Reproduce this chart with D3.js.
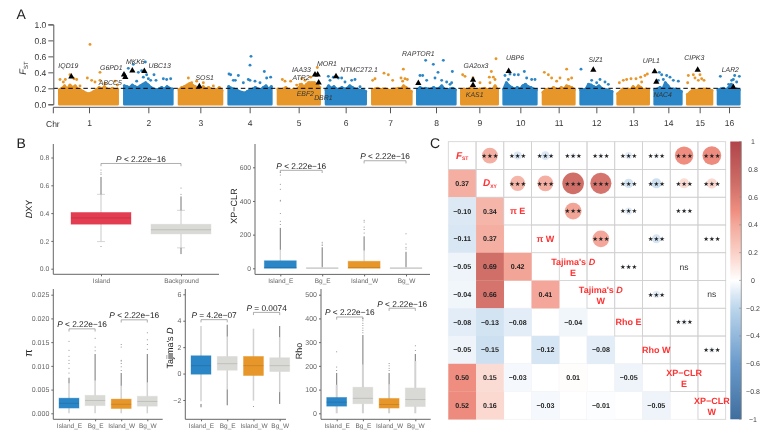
<!DOCTYPE html>
<html><head><meta charset="utf-8">
<script src="https://cdn.jsdelivr.net/npm/d3@7"></script>
<style>html,body{margin:0;padding:0;background:#fff}svg{display:block;filter:blur(.3px)}text{font-family:"Liberation Sans",Arial,sans-serif;text-rendering:geometricPrecision}</style>
</head><body><svg id="c" width="778" height="434"></svg>
<script>
// ---------- Panel A data ----------
const chrNames = ["1","2","3","4","5","6","7","8","9","10","11","12","13","14","15","16"];
const chrTicks = [267,445,601,749,896,1037,1170,1308,1438,1561,1676,1789,1900,2005,2099,2187];
const chrSpans = [[174,357],[369,521],[533,670],[682,818],[830,963],[974,1101],[1113,1238],[1248,1370],[1380,1497],[1507,1613],[1625,1727],[1738,1840],[1849,1950],[1960,2048],[2058,2140],[2150,2222]];
const chrTops = [
 [.2,.22,.25,.21,.26,.23,.25,.21,.2,.18,.16,.15,.16,.18,.2,.23,.21,.24,.21,.2,.22,.2,.21],
 [.25,.24,.23,.26,.24,.23,.25,.27,.29,.26,.23,.21,.2,.21,.23,.21,.24,.22,.21],
 [.2,.23,.24,.26,.28,.26,.24,.23,.22,.24,.21,.23,.21,.2,.2,.23,.19],
 [.24,.22,.21,.2,.18,.17,.16,.18,.2,.21,.23,.21,.2,.23,.25,.21,.24],
 [.21,.2,.21,.23,.2,.19,.21,.2,.23,.27,.24,.27,.29,.29,.29,.27,.23],
 [.2,.25,.22,.24,.21,.21,.23,.21,.22,.25,.23,.21,.21,.19,.2,.18],
 [.2,.21,.22,.2,.21,.21,.2,.19,.21,.21,.22,.21,.25,.23,.2,.18],
 [.2,.23,.21,.22,.21,.21,.23,.21,.22,.25,.21,.2,.21,.22,.2],
 [.2,.21,.2,.21,.24,.21,.2,.21,.21,.22,.2,.21,.2,.25,.2],
 [.21,.29,.25,.23,.21,.23,.21,.25,.27,.24,.23,.21,.2],
 [.17,.2,.21,.2,.23,.21,.2,.23,.21,.25,.24,.23,.2],
 [.2,.2,.21,.27,.26,.24,.23,.25,.22,.2,.2,.19,.18],
 [.15,.18,.21,.2,.21,.2,.24,.21,.25,.23,.2,.21,.2],
 [.2,.21,.23,.21,.29,.25,.21,.21,.21,.2,.18],
 [.14,.17,.2,.19,.2,.2,.21,.21,.2,.19],
 [.2,.21,.22,.2,.23,.27,.21,.21,.2]];
const peaksOrange = [[270,.75],[300,.4],[180,.31],[190,.28],[196,.31],[210,.37],[222,.32],[230,.31],[240,.23],[262,.33],[275,.3],[285,.28],[300,.3],[315,.26],[345,.29],[352,.24],
 [565,.33],[575,.27],[590,.29],[610,.27],[640,.23],[847,.31],[855,.29],[872,.29],[905,.32],[915,.3],[925,.27],[932,.34],[952,.46],[945,.38],[900,.25],[890,.24],
 [1125,.32],[1118,.3],[1152,.39],[1165,.37],[1178,.3],[1210,.44],[1203,.33],[1215,.32],[1222,.31],[1208,.29],
 [1388,.37],[1395,.35],[1419,.33],[1474,.41],[1488,.57],[1480,.34],[1468,.34],[1485,.31],[1470,.27],[1440,.27],
 [1633,.4],[1645,.37],[1655,.33],[1670,.29],[1680,.33],[1700,.44],[1705,.31],[1715,.33],
 [1858,.27],[1870,.3],[1880,.31],[1893,.32],[1908,.32],[1922,.34],[1935,.36],[1942,.38],[1925,.28],
 [2065,.36],[2080,.37],[2085,.33],[2100,.37],[2105,.32],[2112,.3],[2095,.3],[2063,.27]];
const peaksBlue = [[385,.45],[372,.38],[400,.5],[415,.4],[425,.42],[436,.53],[440,.37],[445,.32],[462,.37],[468,.3],[490,.32],[512,.32],[500,.31],[410,.29],[430,.34],[452,.3],
 [753,.6],[750,.49],[687,.38],[692,.37],[715,.36],[750,.3],[793,.41],[812,.34],[700,.3],[706,.3],[730,.27],[745,.31],[765,.29],[780,.27],[800,.33],
 [985,.35],[990,.3],[1000,.34],[1015,.33],[1025,.33],[1035,.28],[1055,.3],[1065,.31],[1080,.22],
 [1277,.55],[1300,.5],[1330,.55],[1314,.4],[1357,.41],[1260,.36],[1268,.36],[1280,.3],[1305,.33],[1325,.3],[1340,.28],[1350,.25],[1355,.27],
 [1515,.36],[1530,.38],[1543,.37],[1555,.37],[1573,.41],[1580,.33],[1595,.31],[1605,.31],[1525,.31],
 [1743,.44],[1775,.3],[1790,.27],[1800,.31],[1815,.28],[1825,.25],
 [1978,.4],[2000,.36],[2010,.34],[1990,.31],[2020,.3],[2035,.29],[1975,.3],[1985,.37],
 [2161,.35],[2204,.36],[2218,.35],[2195,.3],[2200,.31],[2210,.28],[2186,.25]];
const genePos = [214,372,376,397,433,598,945,953,956,1008,1255,1419,1419,1526,1780,1964,1969,2093,2200];
const geneFst = [.345,.37,.34,.42,.415,.225,.37,.37,.27,.35,.265,.305,.24,.415,.43,.41,.28,.43,.215];
const geneNames = ["IQD19","G6PD1","ABCC5","MKK6","UBC13","SOS1","IAA33","ATR2","MOR1","EBF2","DBR1","NTMC2T2.1","RAPTOR1","GA2ox3","KAS1","UBP6","SIZ1","UPL1","NAC4","CIPK3","LAR2"];
const geneLabelX = [205,334,331,406,479,614,904,903,981,916,970,1077,1255,1428,1424,1545,1787,1954,1988,2083,2191];
const geneLabelFst = [.49,.46,.27,.54,.48,.33,.43,.34,.51,.14,.09,.43,.63,.48,.12,.59,.56,.55,.12,.59,.43];
const fstTicks = [0,.2,.4,.6,.8,1];

// ---------- Panel B data ----------
const dxyCats = ["Island","Background"];
const dxyQ = [[.195,.32,.365,.405,.535],[.15,.25,.28,.32,.42]];
const dxyDense = [[[.535,.66]],[[.42,.52],[.105,.15]]];
const dxySingles = [[.68,.69,.71,.16],[.535,.58]];
const fourCats = ["Island_E","Bg_E","Island_W","Bg_W"];
const xpQ = [[0,0,5,45,110],[0,0,1,3,8],[0,0,5,42,105],[0,0,1,3,8]];
const xpDense = [[[110,240]],[[8,125]],[[105,190]],[[8,98]]];
const xpSingles = [[260,280,325,400,405,470,500,555,570],[135,145,155],[210,230,245,275,285],[115,125,145,205]];
const piQ = [[0,.0011,.0021,.0032,.0063],[0,.0016,.0027,.0038,.0069],[0,.001,.0019,.003,.0058],[0,.0015,.0025,.0036,.0065]];
const piDense = [[[.0063,.0075]],[[.0069,.0125]],[[.0058,.0085]],[[.0065,.0125]]];
const piSingles = [[.0085,.0095,.0105,.0112,.012,.0133,.0152],[.0132,.014,.0158],[.009,.0098,.0105,.011,.0112,.014,.0145],[.0135,.0145,.0155,.017]];
const tdQ = [[-2.1,-.05,.6,1.35,3.6],[-1.2,.25,.75,1.3,2.8],[-2.05,-.15,.6,1.3,3.4],[-1.4,.15,.6,1.2,2.75]];
const tdDense = [[[-2.55,-2.3]],[[-2.4,-1.2],[2.8,3.7]],[],[[-2.3,-1.4],[2.75,3.6]]];
const tdSingles = [[],[],[-2.5],[]];
const rhoQ = [[0,30,47,67,120],[0,40,63,110,205],[0,22,37,63,122],[0,28,58,107,220]];
const rhoDense = [[[120,170]],[[205,330]],[[122,170]],[[220,250]]];
const rhoSingles = [[180,195,260],[340,350,360,370,380,390,400],[180,190,200,210],[265,285]];

// ---------- Panel C data ----------
const corrLabels = ["FST","DXY","π E","π W","Tajima's D|E","Tajima's D|W","Rho E","Rho W","XP−CLR|E","XP−CLR|W"];
const corrLower = [
 [],[.37],[-.10,.34],[-.11,.37,null],[-.05,.69,.42,null],[-.04,.66,null,.41,null],
 [-.08,-.13,-.08,null,-.04,null],[-.05,-.15,null,-.12,null,-.08,null],
 [.50,.15,-.03,null,.01,null,-.05,null],[.52,.16,null,-.03,null,-.01,null,-.05,null]];
const corrFmt = [
 [],["0.37"],["−0.10","0.34"],["−0.11","0.37",""],["−0.05","0.69","0.42",""],["−0.04","0.66","","0.41",""],
 ["−0.08","−0.13","−0.08","","−0.04",""],["−0.05","−0.15","","−0.12","","−0.08",""],
 ["0.50","0.15","−0.03","","0.01","","−0.05",""],["0.52","0.16","","−0.03","","−0.01","","−0.05",""]];
const nsPairs = ["4-8","5-9"];
const colorTicks = [1,.8,.6,.4,.2,0,-.2,-.4,-.6,-.8,-1];
const colorStops = [-1,-.6,-.2,-.1,0,.2,.4,.5,.7,1];
const colorHex = ["#3f6e9e","#6a9acb","#bcd6ec","#dce9f5","#ffffff","#fad0c6","#f3a99c","#ef8e80","#ce6d67","#b0444a"];

const svg = d3.select("#c");
const INK = "#222";
const ORANGE="#e7972a", BLUE="#2a86c6", LGREY="#d9d9d6", RED="#e23d50";

function letter(t,x,y){svg.append("text").attr("x",x).attr("y",y).attr("font-size",14).attr("fill",INK).text(t);}
letter("A",16.5,19); letter("B",16.5,148); letter("C",430,148);

// ---------- Panel A ----------
const ax = d3.scaleLinear().domain([0,2334]).range([0,778]);
const ay = d3.scaleLinear().domain([0,1]).range([104.3,24.4]);
const A = svg.append("g");
chrSpans.forEach((s,i)=>{
  const col = i%2===0?ORANGE:BLUE, tops = chrTops[i];
  const px = d3.scaleLinear().domain([0,tops.length-1]).range([s[0]+4,s[1]-4]);
  const area = d3.area().x((d,k)=>ax(px(k))).y0(ay(0)).y1(d=>ay(d)+1.5);
  A.append("path").attr("d",area(tops)).attr("fill",col).attr("stroke",col).attr("stroke-width",2.6).attr("stroke-linejoin","round");
  A.append("g").selectAll("circle").data(tops).join("circle")
    .attr("cx",(d,k)=>ax(px(k))).attr("cy",d=>ay(d)+1.5).attr("r",1.5).attr("fill",col);
});
[[peaksOrange,ORANGE],[peaksBlue,BLUE]].forEach(([arr,col])=>{
  A.append("g").selectAll("circle").data(arr).join("circle")
    .attr("cx",d=>ax(d[0])).attr("cy",d=>ay(d[1])).attr("r",1.45).attr("fill",col);
});
A.append("line").attr("x1",ax(160)).attr("x2",ax(2222)).attr("y1",ay(.2)).attr("y2",ay(.2))
  .attr("stroke","#000").attr("stroke-width",1).attr("stroke-dasharray","4.5,3");
A.append("g").selectAll("path").data(genePos).join("path")
  .attr("d",d3.symbol(d3.symbolTriangle,17))
  .attr("transform",(d,i)=>`translate(${ax(d)},${ay(geneFst[i])})`).attr("fill","#000");
A.append("g").selectAll("text").data(geneNames).join("text")
  .attr("x",(d,i)=>ax(geneLabelX[i])).attr("y",(d,i)=>ay(geneLabelFst[i])+2.5)
  .attr("text-anchor","middle").attr("font-size",6.9).attr("font-style","italic").attr("fill","#333").text(d=>d);
const ayAxis = d3.axisLeft(ay).tickValues(fstTicks).tickFormat(d3.format(".1f")).tickSize(5).tickPadding(2);
const gy = A.append("g").attr("transform","translate(53.3,0)").call(ayAxis);
gy.selectAll("text").attr("font-size",8.5).attr("fill","#333");
gy.selectAll("path,line").attr("stroke","#555");
const axAxis = d3.axisBottom(ax).tickValues(chrTicks).tickFormat((d,i)=>chrNames[i]).tickSize(6).tickPadding(7).tickSizeOuter(0);
const gx = A.append("g").attr("transform","translate(0,107.3)").call(axAxis);
gx.select("path").attr("d",`M${ax(160)},6V0H${ax(2222)}`);
gx.selectAll("text").attr("font-size",8.5).attr("fill","#333");
gx.selectAll("path,line").attr("stroke","#555").attr("fill","none");
A.append("text").attr("x",46).attr("y",127).attr("font-size",8.5).attr("fill","#333").text("Chr");
const fl = A.append("text").attr("transform","translate(26,68) rotate(-90)").attr("text-anchor","middle").attr("font-size",9.5).attr("fill","#333");
fl.append("tspan").attr("font-style","italic").text("F");
fl.append("tspan").attr("font-size",6).attr("dy",1.5).text("ST");

// ---------- Panel B ----------
function boxPanel(o){
  const y = d3.scaleLinear().domain(o.dom).range(o.yr);
  const x = d3.scalePoint().domain(o.cats).range(o.xr);
  const g = svg.append("g");
  o.q.forEach((q,i)=>{
    const cx = x(o.cats[i]), w=o.bw;
    g.append("line").attr("x1",cx).attr("x2",cx).attr("y1",y(q[0])).attr("y2",y(q[4])).attr("stroke","#d2d2d2").attr("stroke-width",o.ww||1.2);
    (o.caps?[q[0],q[4]]:[]).forEach(v=>g.append("line").attr("x1",cx-4).attr("x2",cx+4).attr("y1",y(v)).attr("y2",y(v)).attr("stroke","#bbb").attr("stroke-width",.6));
    o.dense[i].forEach(r=>g.append("line").attr("x1",cx).attr("x2",cx).attr("y1",y(r[0])).attr("y2",y(r[1])).attr("stroke","#666").attr("stroke-width",.9));
    g.append("g").selectAll("circle").data(o.singles[i]).join("circle").attr("cx",cx).attr("cy",d=>y(d)).attr("r",.5).attr("fill","#777");
    const col=o.colors[i];
    g.append("rect").attr("x",cx-w/2).attr("width",w).attr("y",y(q[3])).attr("height",Math.max(.6,y(q[1])-y(q[3]))).attr("fill",col).attr("stroke",col).attr("stroke-opacity",.45).attr("stroke-width",.8);
    g.append("line").attr("x1",cx-w/2).attr("x2",cx+w/2).attr("y1",y(q[2])).attr("y2",y(q[2])).attr("stroke",d3.color(col).darker(.45)).attr("stroke-width",.8);
  });
  const ya = g.append("g").attr("transform",`translate(${o.ax},0)`).call(d3.axisLeft(y).tickValues(o.ticks).tickFormat(o.fmt).tickSize(2).tickPadding(2).tickSizeOuter(0));
  ya.select("path").attr("d",`M0,${o.top}V${o.bot}`);
  const xa = g.append("g").attr("transform",`translate(0,${o.bot})`).call(d3.axisBottom(x).tickSize(2).tickPadding(2).tickSizeOuter(0));
  xa.select("path").attr("d",`M${o.ax},0H${o.right}`);
  [ya,xa].forEach(a=>{a.selectAll("path,line").attr("stroke","#666").attr("fill","none");a.selectAll("text").attr("font-size",o.fs).attr("fill","#666");});
  xa.selectAll("text").attr("font-size",6.5);
  o.br.forEach(b=>{
    const x1=x(o.cats[b.a]),x2=x(o.cats[b.b]),yy=y(b.v);
    g.append("path").attr("d",d3.line()([[x1,yy+2.7],[x1,yy],[x2,yy],[x2,yy+2.7]])).attr("fill","none").attr("stroke","#777").attr("stroke-width",.6);
    const t=g.append("text").attr("x",(x1+x2)/2).attr("y",yy-1.5).attr("text-anchor","middle").attr("font-size",8.3).attr("fill","#222");
    t.append("tspan").attr("font-style","italic").text("P");
    t.append("tspan").text(b.t);
  });
  const l=g.append("text").attr("transform",`translate(${o.lx},${o.ly}) rotate(-90)`).attr("text-anchor","middle").attr("font-size",o.ts||9).attr("fill","#222");
  o.title.forEach(p=>l.append("tspan").attr("font-style",p[1]?"italic":"normal").text(p[0]));
}
const four=[BLUE,LGREY,ORANGE,LGREY];
boxPanel({dom:[0,.8],yr:[268.7,157.5],cats:dxyCats,xr:[101,181],bw:60,q:dxyQ,dense:dxyDense,singles:dxySingles,colors:[RED,LGREY],ax:53.3,top:144,bot:274.3,right:219,ticks:[0,.2,.4,.6,.8],fmt:d3.format(".1f"),fs:6.8,caps:true,
 br:[{a:0,b:1,v:.757,t:" < 2.22e−16"}],title:[["D",1],["XY",0]],lx:32,ly:209});
boxPanel({dom:[0,600],yr:[268.3,167.3],cats:fourCats,xr:[280.3,406],bw:32,q:xpQ,dense:xpDense,singles:xpSingles,colors:four,ax:255,top:144,bot:274.4,right:430,ticks:[0,200,400,600],fmt:d3.format("d"),fs:6.8,
 br:[{a:0,b:1,v:582,t:" < 2.22e−16"},{a:2,b:3,v:639,t:" < 2.22e−16"}],title:[["XP−CLR",0]],lx:237,ly:206});
boxPanel({dom:[0,.025],yr:[413.3,294.7],cats:fourCats,xr:[69,147.3],bw:20,q:piQ,dense:piDense,singles:piSingles,colors:four,ax:53.3,top:289,bot:419.3,right:162.7,ticks:[0,.005,.01,.015,.02,.025],fmt:d3.format(".3f"),fs:7,ww:1.5,ts:11,
 br:[{a:0,b:1,v:.0178,t:" < 2.22e−16"},{a:2,b:3,v:.0197,t:" < 2.22e−16"}],title:[["π",0]],lx:32,ly:353});
boxPanel({dom:[-2,6],yr:[400,294.3],cats:fourCats,xr:[201,279.7],bw:20,q:tdQ,dense:tdDense,singles:tdSingles,colors:four,ax:185.3,top:289,bot:419.3,right:286,ticks:[-2,0,2,4,6],fmt:d=>d<0?"−"+(-d):""+d,fs:7,ww:1.5,
 br:[{a:0,b:1,v:4.08,t:" = 4.2e−07"},{a:2,b:3,v:4.63,t:" = 0.0074"}],title:[["Tajima's ",0],["D",1]],lx:173,ly:348});
boxPanel({dom:[0,500],yr:[413.3,294.7],cats:fourCats,xr:[336.7,415.3],bw:20,q:rhoQ,dense:rhoDense,singles:rhoSingles,colors:four,ax:321,top:289,bot:419.3,right:430.7,ticks:[0,100,200,300,400,500],fmt:d3.format("d"),fs:7,ww:2,
 br:[{a:0,b:1,v:406,t:" < 2.22e−16"},{a:2,b:3,v:443,t:" < 2.22e−16"}],title:[["Rho",0]],lx:302,ly:351});

// ---------- Panel C ----------
const N = corrLabels.length;
const cx = d3.scaleLinear().domain([0,N]).range([448.3,725.7]);
const cy = d3.scaleLinear().domain([0,N]).range([141.7,419.3]);
const cw = cx(1)-cx(0), ch = cy(1)-cy(0);
const color = d3.scaleLinear().domain(colorStops).range(colorHex);
const rad = d3.scaleSqrt().domain([0,1]).range([0,13]);
const C = svg.append("g");
for(let r=0;r<N;r++)for(let c=0;c<r;c++){
  C.append("rect").attr("x",cx(c)).attr("y",cy(r)).attr("width",cw).attr("height",ch)
    .attr("fill","#fff").attr("stroke","#f2f2f2").attr("stroke-width",.8);
}
corrLower.forEach((row,r)=>row.forEach((v,c)=>{
  if(v===null) return;
  C.append("rect").attr("x",cx(c)).attr("y",cy(r)).attr("width",cw+.2).attr("height",ch+.2).attr("fill",color(v));
}));
for(let r=0;r<N;r++)for(let c=r;c<N;c++){
  C.append("rect").attr("x",cx(c)).attr("y",cy(r)).attr("width",cw).attr("height",ch).attr("fill","none").attr("stroke","#d0d0d0").attr("stroke-width",.8);
}
corrLower.forEach((row,r)=>row.forEach((v,c)=>{
  if(v===null) return;
  const X=cx(c+.5),Y=cy(r+.5);
  C.append("text").attr("x",X).attr("y",Y+2.5).attr("text-anchor","middle").attr("font-size",7.1).attr("font-weight","bold").attr("fill","#222").text(corrFmt[r][c]);
  const x2=cx(r+.5),y2=cy(c+.5);
  C.append("circle").attr("cx",x2).attr("cy",y2).attr("r",rad(Math.abs(v))).attr("fill",color(v));
  if(!nsPairs.includes(c+"-"+r)) C.append("text").attr("x",x2).attr("y",y2+2.3).attr("text-anchor","middle").attr("font-size",6.4).attr("fill","#222").style("font-family","'DejaVu Sans'").text("★★★");
}));
nsPairs.forEach(p=>{const [r,c]=p.split("-").map(Number);
  C.append("text").attr("x",cx(c+.5)).attr("y",cy(r+.5)+3).attr("text-anchor","middle").attr("font-size",8.5).attr("fill","#333").text("ns");});
corrLabels.forEach((l,i)=>{
  const X=cx(i+.5),Y=cy(i+.5);
  const attrs=t=>t.attr("text-anchor","middle").attr("font-size",9).attr("font-weight","bold").attr("fill","#f33");
  if(i<2){
    const t=attrs(C.append("text").attr("x",X).attr("y",Y+3));
    t.append("tspan").attr("font-style","italic").attr("font-size",10).text(l[0]);
    t.append("tspan").attr("font-size",5).attr("dy",1.5).text(l.slice(1));
    return;
  }
  const parts=l.split("|");
  if(parts.length===1){attrs(C.append("text").attr("x",X).attr("y",Y+3)).text(l);return;}
  const t=attrs(C.append("text").attr("x",X).attr("y",Y-1.5));
  if(parts[0].endsWith(" D")){t.append("tspan").text(parts[0].slice(0,-1));t.append("tspan").attr("font-style","italic").text("D");}
  else t.text(parts[0]);
  attrs(C.append("text").attr("x",X).attr("y",Y+9.5)).text(parts[1]);
});
// colour bar
const cbY = d3.scaleLinear().domain([1,-1]).range([141.5,419.3]);
const grad = svg.append("defs").append("linearGradient").attr("id","cb").attr("x1",0).attr("x2",0).attr("y1",0).attr("y2",1);
colorStops.slice().reverse().forEach(v=>grad.append("stop").attr("offset",(1-v)/2).attr("stop-color",color(v)));
C.append("rect").attr("x",730.3).attr("width",11).attr("y",cbY(1)).attr("height",cbY(-1)-cbY(1)).attr("fill","url(#cb)");
C.append("line").attr("x1",741.3).attr("x2",741.3).attr("y1",cbY(1)).attr("y2",cbY(-1)).attr("stroke","#888").attr("stroke-width",.8);
colorTicks.forEach(v=>{
  C.append("line").attr("x1",739).attr("x2",741.3).attr("y1",cbY(v)).attr("y2",cbY(v)).attr("stroke","#888").attr("stroke-width",.6);
  C.append("text").attr("x",753).attr("y",cbY(v)+2.5).attr("text-anchor","middle").attr("font-size",7).attr("fill","#444").text(v<0?"−"+(-v):""+v);
});
</script></body></html>
